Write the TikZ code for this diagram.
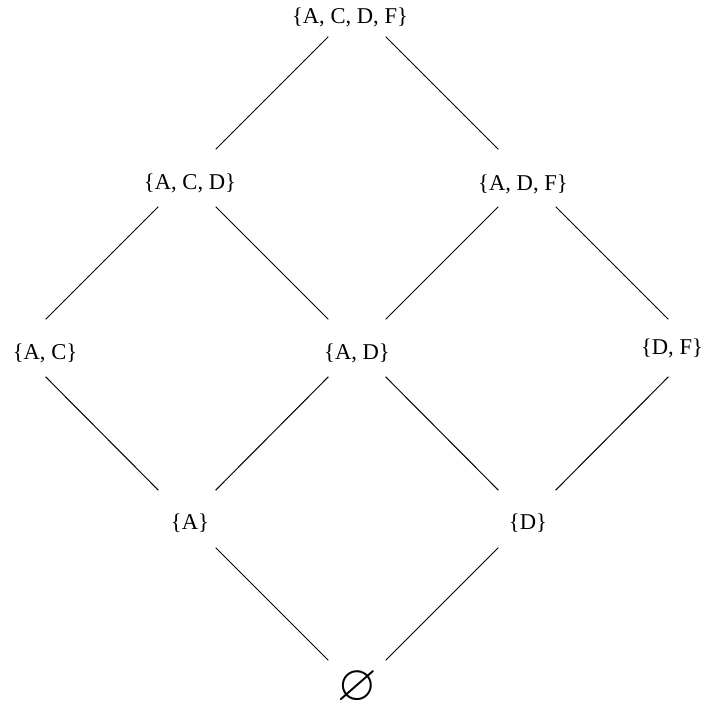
\documentclass[tikz,border=0pt]{standalone}
\usepackage{fontspec}
\setmainfont{Liberation Serif}
\usepackage{amssymb}
\begin{document}
\begin{tikzpicture}[x=0.5pt,y=-0.5pt,
  vert/.style={inner sep=0pt, minimum size=0pt},
  lbl/.style={inner sep=0pt, font=\fontsize{11.3}{13}\selectfont},
  edge/.style={line width=0.5pt, shorten <=20pt, shorten >=20pt}]
\useasboundingbox (0,0) rectangle (705,708);
% lattice vertices
\node[vert] (acdf) at (357,8) {};
\node[vert] (acd) at (187,178) {};
\node[vert] (adf) at (527,178) {};
\node[vert] (ac) at (17,348) {};
\node[vert] (ad) at (357,348) {};
\node[vert] (df) at (697,348) {};
\node[vert] (a) at (187,519) {};
\node[vert] (d) at (527,519) {};
\node[vert] (e) at (357,689) {};
% labels
\node[lbl] (acdf-t) at (350,17) {\{A, C, D, F\}};
\node[lbl] (acd-t) at (190,183) {\{A, C, D\}};
\node[lbl] (adf-t) at (523,184) {\{A, D, F\}};
\node[lbl] (ac-t) at (45,353) {\{A, C\}};
\node[lbl] (ad-t) at (357,353) {\{A, D\}};
\node[lbl] (df-t) at (672,348) {\{D, F\}};
\node[lbl] (a-t) at (190,523) {\{A\}};
\node[lbl] (d-t) at (528,523) {\{D\}};
\node[inner sep=0pt, font=\fontsize{25.5}{26}\selectfont] (e-t) at (357,688) {$\varnothing$};
% edges
\draw[edge] (acdf) -- (acd);
\draw[edge] (acdf) -- (adf);
\draw[edge] (acd) -- (ac);
\draw[edge] (acd) -- (ad);
\draw[edge] (adf) -- (ad);
\draw[edge] (adf) -- (df);
\draw[edge] (ac) -- (a);
\draw[edge] (ad) -- (a);
\draw[edge] (ad) -- (d);
\draw[edge] (df) -- (d);
\draw[edge] (a) -- (e);
\draw[edge] (d) -- (e);
\end{tikzpicture}
\end{document}
